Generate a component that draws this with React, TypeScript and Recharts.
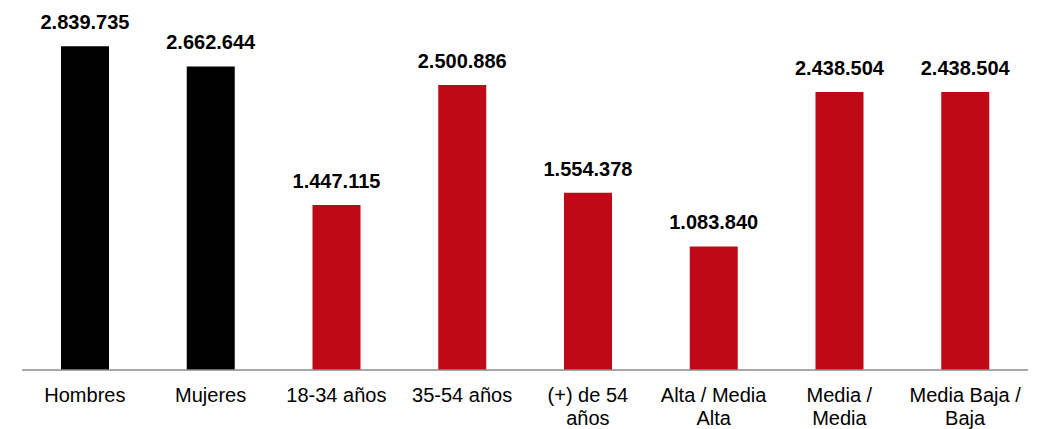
import React from 'react'
import { Bar, BarChart, Cell, LabelList, XAxis, YAxis } from 'recharts'

// audiencia por segmento
const categories = [
  'Hombres',
  'Mujeres',
  '18-34 años',
  '35-54 años',
  '(+) de 54\naños',
  'Alta / Media\nAlta',
  'Media /\nMedia',
  'Media Baja /\nBaja',
]
const values = [2839735, 2662644, 1447115, 2500886, 1554378, 1083840, 2438504, 2438504]
const groups = ['sexo', 'sexo', 'edad', 'edad', 'edad', 'nse', 'nse', 'nse']

const colorByGroup: Record<string, string> = {
  sexo: '#000000',
  edad: '#C00916',
  nse: '#C00916',
}

const data = categories.map((name, i) => ({ name, value: values[i], group: groups[i] }))

const formatNumber = (v: number) => String(v).replace(/\B(?=(\d{3})+(?!\d))/g, '.')

const FONT = '"Liberation Sans", Arial, Helvetica, sans-serif'

function CategoryTick(props: any) {
  const { x, y, payload } = props
  const lines = String(payload.value).split('\n')
  return (
    <text x={x} y={y} textAnchor="middle" fontFamily={FONT} fontSize={20} fill="#000">
      {lines.map((line, i) => (
        <tspan key={i} x={x} dy={i === 0 ? 32 : 23}>
          {line}
        </tspan>
      ))}
    </text>
  )
}

export default function App() {
  return (
    <div style={{ width: 1031, height: 421, background: '#fff' }}>
      <BarChart
        width={1031}
        height={421}
        data={data}
        margin={{ top: 20, right: 11, bottom: 0, left: 14 }}
        barCategoryGap={0}
      >
        <XAxis
          dataKey="name"
          height={59}
          axisLine={{ stroke: '#8c8c8c', strokeWidth: 1.5 }}
          tickLine={false}
          tickSize={0}
          tickMargin={0}
          interval={0}
          tick={<CategoryTick />}
        />
        <YAxis hide domain={[0, 3000000]} />
        <Bar dataKey="value" barSize={48} isAnimationActive={false}>
          {data.map((d) => (
            <Cell key={d.name} fill={colorByGroup[d.group]} />
          ))}
          <LabelList
            dataKey="value"
            position="top"
            offset={17}
            formatter={(v: any) => formatNumber(Number(v))}
            style={{ fontFamily: FONT, fontSize: 20, fontWeight: 700, fill: '#000' }}
          />
        </Bar>
      </BarChart>
    </div>
  )
}
